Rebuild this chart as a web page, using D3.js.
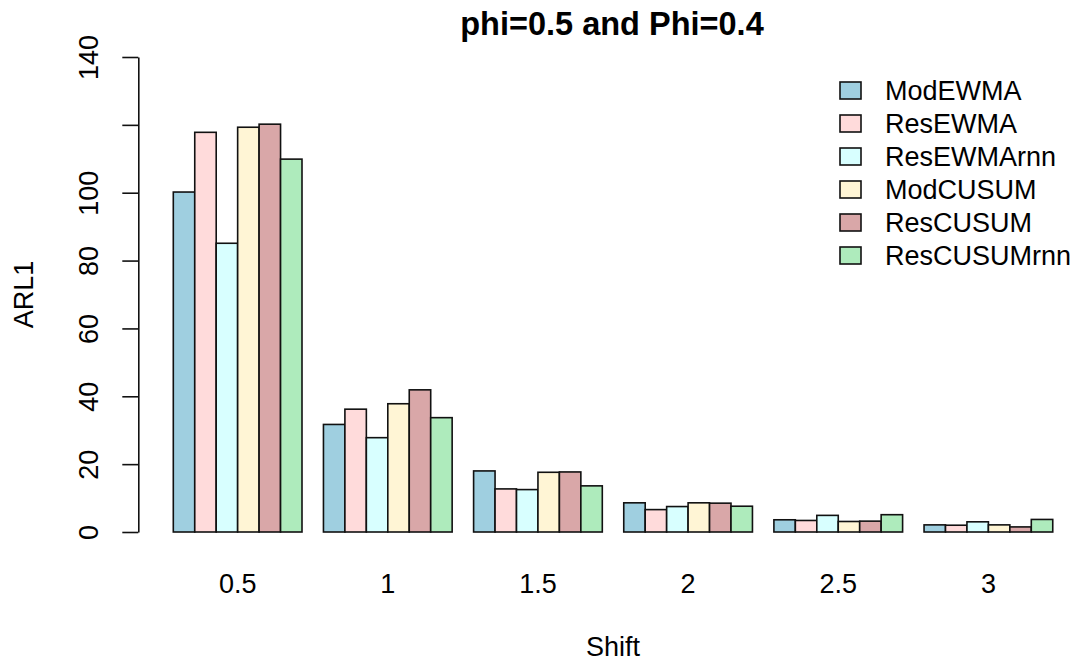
<!DOCTYPE html>
<html>
<head>
<meta charset="utf-8">
<script src="https://cdn.jsdelivr.net/npm/d3@7"></script>
<style>
  body { margin: 0; background: #fff; }
  text { font-family: "Liberation Sans", Arial, sans-serif; fill: #000; }
</style>
</head>
<body>
<svg id="chart" width="1076" height="662"></svg>
<script>
const shifts = ["0.5", "1", "1.5", "2", "2.5", "3"];
const seriesNames = ["ModEWMA", "ResEWMA", "ResEWMArnn", "ModCUSUM", "ResCUSUM", "ResCUSUMrnn"];
const ModEWMA     = [100.2, 31.7, 18.0, 8.6, 3.6, 2.1];
const ResEWMA     = [117.8, 36.2, 12.7, 6.6, 3.4, 2.0];
const ResEWMArnn  = [85.1, 27.8, 12.5, 7.5, 4.9, 3.0];
const ModCUSUM    = [119.3, 37.8, 17.6, 8.6, 3.1, 2.1];
const ResCUSUM    = [120.2, 41.9, 17.7, 8.5, 3.2, 1.5];
const ResCUSUMrnn = [109.9, 33.7, 13.6, 7.6, 5.1, 3.7];
const yTicks = [0, 20, 40, 60, 80, 100, 120, 140];
const yTickLabels = ["0", "20", "40", "60", "80", "100", "", "140"];
const colors = ["#9FCFE0", "#FFDBDB", "#D8FFFF", "#FFF5D5", "#D9A7A8", "#AEEBBC"];
const title = "phi=0.5 and Phi=0.4";
const xLabel = "Shift";
const yLabel = "ARL1";

const seriesValues = [ModEWMA, ResEWMA, ResEWMArnn, ModCUSUM, ResCUSUM, ResCUSUMrnn];

const svg = d3.select("#chart");
const unit = 21.45;
const firstLeft = 173.3;

const x0 = d3.scaleBand()
  .domain(shifts)
  .range([firstLeft, firstLeft + 41 * unit])
  .paddingInner(1 / 7)
  .paddingOuter(0);
const x1 = d3.scaleBand()
  .domain(seriesNames)
  .range([0, x0.bandwidth()])
  .padding(0);
const y = d3.scaleLinear().domain([0, 140]).range([532, 57]);
const color = d3.scaleOrdinal().domain(seriesNames).range(colors);

// bars
const groups = svg.append("g").selectAll("g")
  .data(shifts)
  .join("g")
  .attr("transform", d => `translate(${x0(d)},0)`);

groups.selectAll("rect")
  .data((d, gi) => seriesNames.map((s, si) => ({ s, v: seriesValues[si][gi] })))
  .join("rect")
  .attr("x", d => x1(d.s))
  .attr("width", x1.bandwidth())
  .attr("y", d => y(d.v))
  .attr("height", d => y(0) - y(d.v))
  .attr("fill", d => color(d.s))
  .attr("stroke", "#111")
  .attr("stroke-width", 1.6);

// x labels
svg.append("g").selectAll("text")
  .data(shifts)
  .join("text")
  .attr("x", d => x0(d) + x0.bandwidth() / 2)
  .attr("y", 593)
  .attr("text-anchor", "middle")
  .attr("font-size", 27)
  .text(d => d);

// y axis
const yAxis = d3.axisLeft(y)
  .tickValues(yTicks)
  .tickFormat((d, i) => yTickLabels[i])
  .tickSize(16)
  .tickSizeOuter(0);
const ya = svg.append("g")
  .attr("transform", "translate(138.3,0)")
  .call(yAxis);
ya.select(".domain").attr("stroke", "#111").attr("stroke-width", 1.6);
ya.selectAll(".tick line").attr("stroke", "#111").attr("stroke-width", 1.6);
ya.selectAll(".tick text")
  .attr("font-size", 27)
  .attr("font-family", "Liberation Sans, Arial, sans-serif")
  .attr("fill", "#000")
  .attr("x", 0)
  .attr("y", 0)
  .attr("text-anchor", "middle")
  .attr("transform", "translate(-50,0) rotate(-90)")
  .attr("dy", "0.36em");

// title
svg.append("text")
  .attr("x", 612)
  .attr("y", 35)
  .attr("text-anchor", "middle")
  .attr("font-size", 32.5)
  .attr("font-weight", "bold")
  .text(title);

// x axis title
svg.append("text")
  .attr("x", 613)
  .attr("y", 656)
  .attr("text-anchor", "middle")
  .attr("font-size", 27)
  .text(xLabel);

// y axis title
svg.append("text")
  .attr("transform", "translate(33,294.5) rotate(-90)")
  .attr("text-anchor", "middle")
  .attr("font-size", 27)
  .text(yLabel);

// legend
const legend = svg.append("g").selectAll("g")
  .data(seriesNames)
  .join("g")
  .attr("transform", (d, i) => `translate(840,${90.5 + i * 33})`);
legend.append("rect")
  .attr("x", 0)
  .attr("y", -8.5)
  .attr("width", 21)
  .attr("height", 17)
  .attr("fill", d => color(d))
  .attr("stroke", "#111")
  .attr("stroke-width", 1.6);
legend.append("text")
  .attr("x", 45)
  .attr("y", 0)
  .attr("dy", "0.36em")
  .attr("font-size", 27)
  .text(d => d);
</script>
</body>
</html>
